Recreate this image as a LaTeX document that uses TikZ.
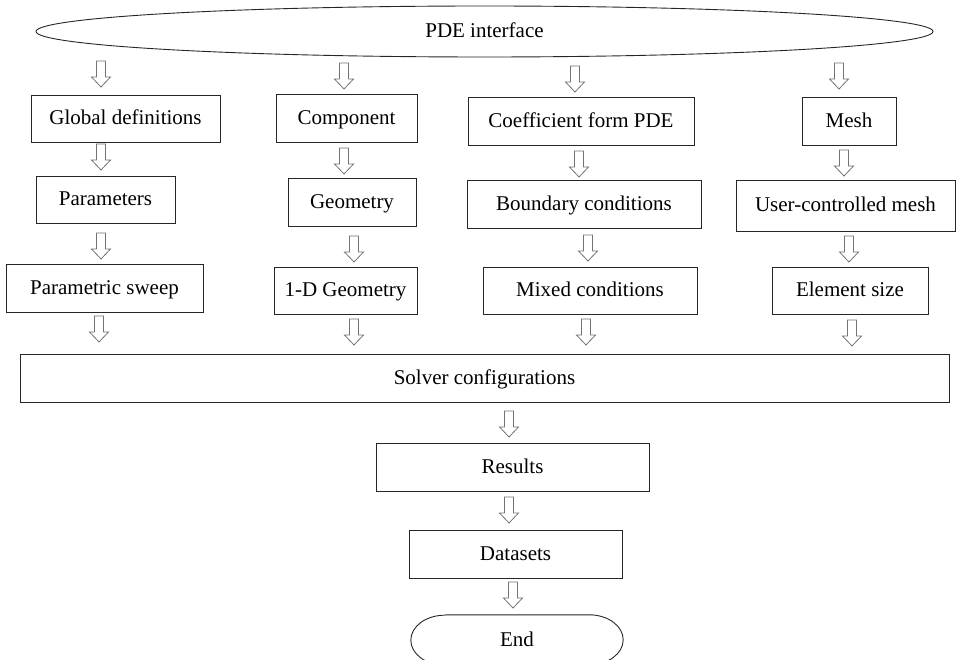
\documentclass[tikz,border=0pt]{standalone}
\usepackage{fontspec}
\setmainfont{Liberation Serif}
\usepackage{tikz}
\usetikzlibrary{shapes.geometric, calc}

\tikzset{
    txt/.style={font=\fontsize{21}{24}\selectfont, inner sep=0pt, text=black,
        text height=18pt, text depth=5pt},
    box/.style={txt, draw=black!85, line width=0.9pt, rectangle},
    blkarrow/.pic={
        \draw[black!55, line width=0.8pt, fill=white, line join=miter]
            (-4.5,0) -- (4.5,0) -- (4.5,16) -- (9.5,16) -- (0,26)
            -- (-9.5,16) -- (-4.5,16) -- cycle;
    }
}

\begin{document}
\begin{tikzpicture}[x=1pt, y=-1pt]
                \useasboundingbox (0,0) rectangle (956,660);
                % top and bottom terminals
                \node[txt, draw=black!85, line width=0.9pt, ellipse, minimum width=897, minimum height=51] (pde) at (484.5,31.5) {PDE interface};
                \node[txt, minimum width=212, minimum height=50] (fin) at (517,640) {End};
                \draw[black!85, line width=0.9pt] ($(fin.north west)+(34,0)$) -- ($(fin.north east)+(-34,0)$)
                    arc (-90:90:34 and 25) -- ($(fin.south west)+(34,0)$) arc (90:270:34 and 25);
                % first column
                \node[box, minimum width=189, minimum height=47] (glob) at (125.5,118.5) {Global definitions};
                \node[box, minimum width=139, minimum height=47] (para) at (105.5,199.5) {Parameters};
                \node[box, minimum width=197, minimum height=48] (sweep) at (104.5,288) {Parametric sweep};
                % second column
                \node[box, minimum width=141, minimum height=48] (comp) at (346.5,118) {Component};
                \node[box, minimum width=128, minimum height=48] (geom) at (352,202) {Geometry};
                \node[box, minimum width=143, minimum height=47] (geoi) at (345.5,290.5) {1-D Geometry};
                % third column
                \node[box, minimum width=226, minimum height=48] (coef) at (581,121) {Coefficient form PDE};
                \node[box, minimum width=234, minimum height=48] (bound) at (584,204) {Boundary conditions};
                \node[box, minimum width=214, minimum height=47] (mixed) at (590,290.5) {Mixed conditions};
                % fourth column
                \node[box, minimum width=94, minimum height=48] (mesh) at (849,121) {Mesh};
                \node[box, minimum width=219, minimum height=51] (user) at (845.5,205.5) {User-controlled mesh};
                \node[box, minimum width=156, minimum height=47] (elem) at (850,290.5) {Element size};
                % joined part
                \node[box, minimum width=929, minimum height=48] (solver) at (484.5,378) {Solver configurations};
                \node[box, minimum width=273, minimum height=48] (res) at (512.5,467) {Results};
                \node[box, minimum width=213, minimum height=48] (data) at (515.5,554) {Datasets};
                % block arrows
                \pic at (101,61) {blkarrow};
                \pic at (101,144) {blkarrow};
                \pic at (101,233) {blkarrow};
                \pic at (99,316) {blkarrow};
                \pic at (344,63) {blkarrow};
                \pic at (344,148) {blkarrow};
                \pic at (354,236) {blkarrow};
                \pic at (354,319) {blkarrow};
                \pic at (575,66) {blkarrow};
                \pic at (579,151) {blkarrow};
                \pic at (588,235) {blkarrow};
                \pic at (586,319) {blkarrow};
                \pic at (839,63) {blkarrow};
                \pic at (844,150) {blkarrow};
                \pic at (849,236) {blkarrow};
                \pic at (852,320) {blkarrow};
                \pic at (509,411) {blkarrow};
                \pic at (509,497) {blkarrow};
                \pic at (513,582) {blkarrow};
            \end{tikzpicture}
\end{document}
